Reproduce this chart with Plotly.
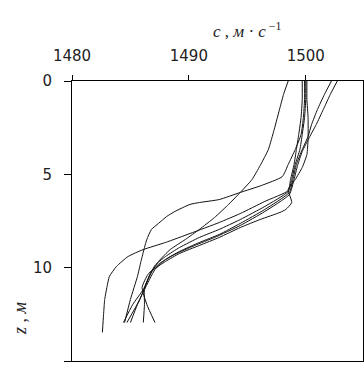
import plotly.graph_objects as go

# Sound speed profiles c (m/s) vs depth z (m)
c_A = [1498.5, 1498.1, 1497.8, 1497.3, 1496.8, 1496.1, 1495.4, 1494.4, 1493.3, 1492.2, 1490.9, 1489.7, 1488.4, 1487.4, 1486.7, 1486.1, 1485.2, 1484.4]
z_A = [0, 0.72, 1.42, 2.60, 3.67, 4.53, 5.28, 5.97, 6.67, 7.31, 7.95, 8.49, 9.03, 9.67, 10.36, 11.17, 11.97, 12.94]

c_B = [1499.9, 1499.9, 1499.8, 1499.6, 1499.1, 1498.5, 1498.0, 1496.2, 1494.4, 1492.6, 1490.9, 1490.1, 1488.8, 1488.1, 1487.4, 1486.8, 1486.4, 1486.2, 1485.9, 1485.6, 1485.0, 1484.5]
z_B = [0, 0.99, 1.95, 2.87, 3.67, 4.47, 5.12, 5.60, 5.97, 6.35, 6.51, 6.61, 6.99, 7.26, 7.63, 7.95, 8.49, 8.92, 9.67, 10.47, 11.70, 12.94]

c_C = [1499.7, 1499.7, 1499.6, 1499.4, 1499.2, 1499.0, 1498.7, 1498.5, 1496.5, 1494.4, 1492.6, 1490.1, 1488.0, 1486.1, 1484.8, 1483.8, 1483.2, 1483.0, 1482.8, 1482.7, 1482.6]
z_C = [0, 0.99, 1.95, 2.87, 3.67, 4.47, 5.28, 5.87, 6.45, 7.10, 7.58, 8.17, 8.65, 9.03, 9.40, 9.94, 10.47, 11.01, 11.70, 12.51, 13.47]

c_D = [1500.0, 1500.0, 1499.9, 1499.7, 1499.5, 1499.1, 1498.8, 1498.5, 1496.5, 1494.4, 1492.6, 1490.9, 1489.2, 1488.0, 1487.1, 1486.5, 1485.8, 1484.7]
z_D = [0, 0.99, 1.95, 2.87, 3.67, 4.47, 5.28, 5.92, 6.72, 7.42, 7.95, 8.38, 8.92, 9.40, 9.88, 10.63, 11.70, 12.94]

c_E = [1502.2, 1501.6, 1501.0, 1500.5, 1500.2, 1499.7, 1499.2, 1498.9, 1498.6, 1496.5, 1494.4, 1492.6, 1490.9, 1489.2, 1488.0, 1487.1, 1486.2, 1485.6, 1485.0]
z_E = [0, 0.72, 1.53, 2.33, 2.97, 3.67, 4.47, 5.28, 5.97, 6.88, 7.63, 8.22, 8.65, 9.13, 9.56, 10.10, 11.17, 11.97, 12.94]

c_F = [1500.1, 1500.1, 1500.2, 1500.2, 1500.1, 1499.7, 1499.1, 1498.5, 1498.8, 1498.3, 1497.8, 1496.1, 1494.4, 1492.6, 1490.9, 1489.2, 1488.0, 1486.8, 1486.2, 1486.2, 1486.1]
z_F = [0, 0.99, 1.95, 3.13, 3.94, 4.63, 5.28, 5.81, 6.51, 6.88, 7.04, 7.42, 7.85, 8.38, 8.81, 9.24, 9.67, 10.20, 11.17, 11.97, 12.94]

c_G = [1502.7, 1502.1, 1501.5, 1500.9, 1500.3, 1499.7, 1499.3, 1499.0, 1498.6, 1496.5, 1494.4, 1492.2, 1490.5, 1488.8, 1487.5, 1486.5, 1486.0, 1486.4, 1487.1]
z_G = [0, 0.72, 1.53, 2.33, 3.03, 3.78, 4.53, 5.28, 6.08, 6.99, 7.74, 8.38, 8.81, 9.29, 9.77, 10.36, 11.06, 11.97, 12.94]

x_ticks = [1480, 1490, 1500]
y_ticks = [0, 5, 10, 15]

profiles = [(c_A, z_A), (c_B, z_B), (c_C, z_C), (c_D, z_D), (c_E, z_E), (c_F, z_F), (c_G, z_G)]

fig = go.Figure()
for c, z in profiles:
    fig.add_trace(go.Scatter(x=c, y=z, mode="lines",
                             line=dict(color="#111111", width=1, shape="spline", smoothing=0.5),
                             showlegend=False, hoverinfo="skip"))

tick_font = dict(family="DejaVu Sans", size=15, color="#222222")

fig.update_layout(
    width=364, height=369,
    margin=dict(l=72, r=1, t=81, b=8),
    paper_bgcolor="white", plot_bgcolor="white",
    xaxis=dict(side="top", range=[1480, 1504.9], tickvals=x_ticks,
               ticktext=[str(v) for v in x_ticks],
               ticks="outside", ticklen=5, tickwidth=1, tickcolor="#000",
               showline=True, linecolor="#000", linewidth=1, mirror=True,
               showgrid=False, zeroline=False, tickfont=tick_font,
               ticklabelstandoff=8),
    yaxis=dict(range=[15, 0], tickvals=y_ticks,
               ticktext=[str(v) for v in y_ticks],
               ticks="outside", ticklen=7, tickwidth=1, tickcolor="#000",
               showline=True, linecolor="#000", linewidth=1, mirror=True,
               showgrid=False, zeroline=False, tickfont=tick_font,
               ticklabelstandoff=9),
    annotations=[
        dict(text="<i>c</i> , <i>м</i> · <i>c</i><sup> −1</sup>", xref="paper", yref="paper",
             x=(247 - 72) / 291, y=(369 - 8 - 30) / 280, xanchor="center", yanchor="middle",
             showarrow=False, font=dict(family="Liberation Serif", size=17, color="#222222")),
        dict(text="<i>z</i> , <i>м</i>", xref="paper", yref="paper",
             x=-(72 - 20) / 291, y=(361 - 318) / 280, xanchor="center", yanchor="middle",
             textangle=-90, showarrow=False,
             font=dict(family="Liberation Serif", size=18, color="#222222")),
    ],
)

fig.write_html("out.html")
